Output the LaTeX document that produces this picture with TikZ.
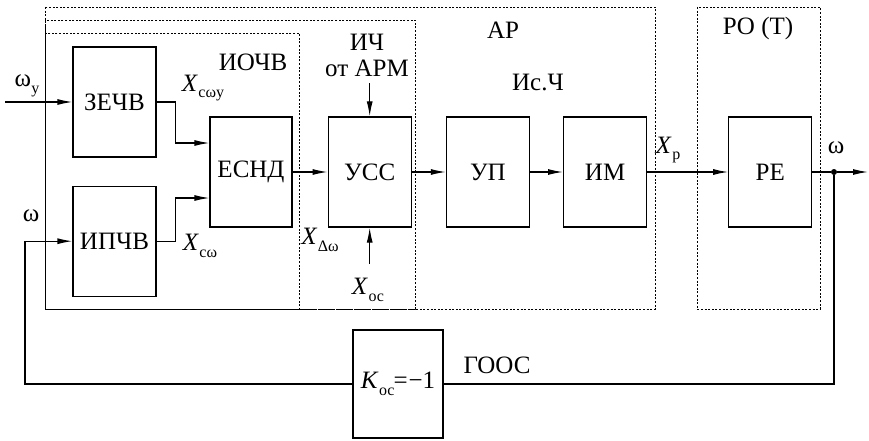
\documentclass[tikz,border=0pt]{standalone}
\usepackage{fontspec}
\setmainfont{Liberation Serif}
\usepackage{tikz}
\usetikzlibrary{arrows.meta,positioning}

\newcommand{\sig}[2]{#1\kern0.5pt\raisebox{-0.6ex}{\fontsize{16}{16}\selectfont #2}}

\begin{document}
\begin{tikzpicture}[
  x=1pt, y=-1pt,
  >={Latex[length=15pt,width=6pt]},
  block/.style={rectangle, draw, line width=1.2pt, minimum width=83pt, minimum height=110pt, inner sep=0pt, font=\fontsize{25}{27}\selectfont},
  zone/.style={draw, line width=0.9pt, dash pattern=on 2pt off 1.6pt},
  line/.style={->, line width=1.2pt},
  wire/.style={line width=1.2pt},
  lbl/.style={inner sep=0pt, font=\fontsize{25}{27}\selectfont}
]
\useasboundingbox (0,0) rectangle (869,441);

% Dotted zones
\draw[zone] (45,7) rectangle (655,309);
\draw[zone] (45,20) rectangle (415,309);
\draw[zone] (45,33) rectangle (299,309);
\draw[zone] (697,7) rectangle (820,309);

% Blocks
\node[block] (zechv) at (114.5,102) {ЗЕЧВ};
\node[block, below=28pt of zechv] (ipchv) {ИПЧВ};
\node[block, minimum width=82pt] (esnd) at (251,172) {ЕСНД};
\node[block, right=35pt of esnd] (uss) {УСС};
\node[block, right=34pt of uss] (up) {УП};
\node[block, right=33pt of up] (im) {ИМ};
\node[block, right=81pt of im] (re) {РЕ};
\node[block, minimum width=90pt, minimum height=108pt] (koc) at (398,384) {\sig{\textit{K}}{ос}\kern-1pt=\kern1pt−1};

% Free ends
\coordinate (wyin) at (5,102);
\coordinate (fbL) at (25,384);
\coordinate (wout) at (868,172);
\coordinate (ichin) at ([yshift=33pt]uss.north);
\coordinate (xocin) at ([yshift=-36pt]uss.south);
\node[circle, fill, inner sep=0pt, minimum size=6pt] (dot) at (834,172) {};

% Labels
\node[lbl] (iochv) at (253,62) {ИОЧВ};
\node[lbl] (ich) at (367,42) {ИЧ};
\node[lbl] (arm) at (367,68) {от АРМ};
\node[lbl] (ar) at (503,30) {АР};
\node[lbl] (isch) at (538,82) {Ис.Ч};
\node[lbl] (ro) at (758,28) {РО (Т)};
\node[lbl] (goos) at (497,365) {ГООС};
\node[lbl] (wy) at (27,86) {\sig{ω}{у}};
\node[lbl] (wfb) at (31,216) {ω};
\node[lbl] (xcwy) at (203,88) {\sig{\textit{X}}{сωу}};
\node[lbl] (xcw) at (200,246) {\sig{\textit{X}}{сω}};
\node[lbl] (xdw) at (320,240) {\sig{\textit{X}}{Δω}};
\node[lbl] (xoc) at (368,290) {\sig{\textit{X}}{ос}};
\node[lbl] (xp) at (668,150) {\sig{\textit{X}}{р}};
\node[lbl] (wlbl) at (836,148) {ω};

% Connectors
\draw[line] (wyin) -- (zechv);
\draw[line] (zechv.east) -- ++(19,0) |- ([yshift=29pt]esnd.west);
\draw[line] (ipchv.east) -- ++(19,0) |- ([yshift=-26pt]esnd.west);
\draw[line] (esnd) -- (uss);
\draw[line] (uss) -- (up);
\draw[line] (up) -- (im);
\draw[line] (im) -- (re);
\draw[wire] (re) -- (dot);
\draw[line] (dot) -- (wout);
\draw[line] (ichin) -- (uss);
\draw[line] (xocin) -- (uss);

% Feedback loop
\draw[wire] (dot) |- (koc);
\draw[line] (koc) -- (fbL) |- (ipchv);
\end{tikzpicture}
\end{document}
